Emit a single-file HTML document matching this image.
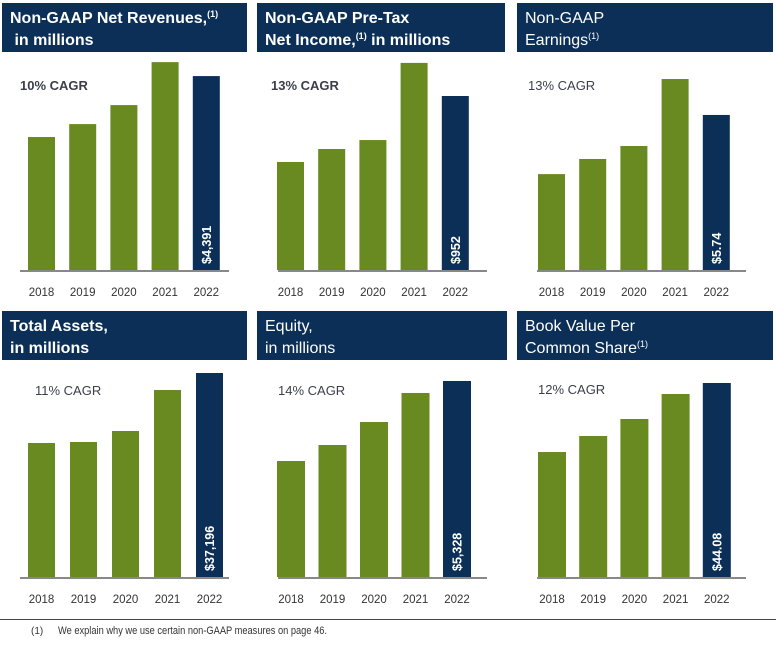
<!DOCTYPE html>
<html><head><meta charset="utf-8"><style>
html,body{margin:0;padding:0;background:#fff;}
body{width:776px;height:640px;overflow:hidden;font-family:"Liberation Sans",sans-serif;}
</style></head><body>
<svg id="c" width="776" height="640" xmlns="http://www.w3.org/2000/svg"></svg>
<script>
const years = ["2018","2019","2020","2021","2022"];
const revenues = [3011, 3304, 3734, 4707, 4391];
const pretax = [591, 662, 711, 1133, 952];
const earnings = [3.55, 4.11, 4.59, 7.07, 5.74];
const assets = [24433, 24615, 26621, 34097, 37196];
const equity = [3153, 3588, 4213, 5002, 5328];
const bookValue = [28.40, 32.04, 35.90, 41.58, 44.08];
const valueLabels = ["$4,391", "$952", "$5.74", "$37,196", "$5,328", "$44.08"];
const cagrLabels = ["10% CAGR", "13% CAGR", "13% CAGR", "11% CAGR", "14% CAGR", "12% CAGR"];
const titles = [
  ["Non-GAAP Net Revenues,", " in millions"],
  ["Non-GAAP Pre-Tax", "Net Income,", " in millions"],
  ["Non-GAAP", "Earnings"],
  ["Total Assets,", "in millions"],
  ["Equity,", "in millions"],
  ["Book Value Per", "Common Share"]
];
const domainMax = [4710, 1138, 7.70, 37196, 5545, 46.35];

const NS = "http://www.w3.org/2000/svg";
const svg = document.getElementById("c");
function mk(tag, attrs, parent) {
  const e = document.createElementNS(NS, tag);
  for (const k in attrs) e.setAttribute(k, attrs[k]);
  (parent || svg).appendChild(e);
  return e;
}
const panels = [
  {x:0, hx:2, hw:245, hy:3, base:270, plotH:208, data:revenues, cx:20, cy:90, bold:true, pitch:41.2, bw:27, b0:28},
  {x:258, hx:257, hw:248, hy:3, base:270, plotH:208, data:pretax, cx:13, cy:90, bold:true, pitch:41.2, bw:27, b0:19},
  {x:517, hx:517, hw:256, hy:3, base:270, plotH:208, data:earnings, cx:11, cy:90, bold:false, pitch:41.2, bw:27, b0:21},
  {x:0, hx:2, hw:245, hy:311, base:577, plotH:204, data:assets, cx:35, cy:395, bold:false, pitch:42, bw:27, b0:28},
  {x:258, hx:257, hw:250, hy:311, base:577, plotH:204, data:equity, cx:20, cy:395, bold:false, pitch:41.5, bw:28, b0:19},
  {x:517, hx:517, hw:256, hy:311, base:577, plotH:204, data:bookValue, cx:21, cy:394, bold:false, pitch:41.2, bw:28, b0:21}
];
const slug = ["net-revenues","pretax-income","earnings","total-assets","equity","book-value"];
panels.forEach((p, i) => {
  const g = mk("g", {});
  
  
  const hdr = mk("rect", {x:p.hx, y:p.hy, width:p.hw, height:49, fill:"#0b2f57"}, g);
  
  
  const lines = titles[i];
  const boldTitle = (i < 2 || i === 3);
  const t = mk("text", {x:p.hx + 8, y:p.hy + 20, fill:"#fff", "font-size":"16", "font-weight": boldTitle ? "bold" : "normal"}, g);
  
  
  if (i === 1) {
    const a = mk("tspan", {x:p.hx + 8, y:p.hy + 20}, t); a.textContent = lines[0];
    const b = mk("tspan", {x:p.hx + 8, y:p.hy + 42}, t); b.textContent = lines[1];
    const s = mk("tspan", {"font-size":"9", dy:"-6"}, t); s.textContent = "(1)";
    const c = mk("tspan", {dy:"6"}, t); c.textContent = lines[2];
  } else {
    const a = mk("tspan", {x:p.hx + 8, y:p.hy + 20}, t); a.textContent = lines[0];
    if (i === 0) { const s = mk("tspan", {"font-size":"9", dy:"-6"}, t); s.textContent = "(1)"; }
    const b = mk("tspan", {x:p.hx + 8, y:p.hy + 42}, t); b.textContent = lines[1];
    if (i === 2 || i === 5) { const s = mk("tspan", {"font-size":"9", dy:"-6"}, t); s.textContent = "(1)"; }
  }
  const cg = mk("text", {x:p.x + p.cx, y:p.cy, fill:"#3a3f4a", "font-size":"13", "font-weight": p.bold ? "bold" : "normal"}, g);
  cg.textContent = cagrLabels[i];
  
  
  const yScale = v => p.base - v / domainMax[i] * p.plotH;
  const xScale = k => p.x + p.b0 + k * p.pitch;
  p.data.forEach((v, k) => {
    const y = yScale(v);
    const r = mk("rect", {x:xScale(k), y:y, width:p.bw, height:p.base - y, fill: k === 4 ? "#0b2f57" : "#688a20"}, g);
    
    
    const yl = mk("text", {x:xScale(k) + p.bw / 2, y:p.base + 26, "text-anchor":"middle", fill:"#333", "font-size":"11.5"}, g);
    yl.textContent = years[k];
    
    
  });
  const ax = mk("line", {x1:p.x + 20, x2:p.x + 229, y1:p.base + 1, y2:p.base + 1, stroke:"#888", "stroke-width":"2"}, g);
  
  
  const lx = xScale(4) + p.bw / 2 + 4.5, ly = p.base - 6;
  const vl = mk("text", {x:lx, y:ly, fill:"#fff", "font-size":"12.5", "font-weight":"bold", transform:"rotate(-90 " + lx + " " + ly + ")"}, g);
  vl.textContent = valueLabels[i];
  
  
});
const fl = mk("line", {x1:0, x2:776, y1:619.5, y2:619.5, stroke:"#444", "stroke-width":"1"});


const fn = mk("text", {x:31, y:634, fill:"#333", "font-size":"11"});


const f1 = mk("tspan", {"font-size":"10"}, fn); f1.textContent = "(1)";
const f2 = mk("tspan", {x:58, textLength:"269", lengthAdjust:"spacingAndGlyphs"}, fn); f2.textContent = "We explain why we use certain non-GAAP measures on page 46.";
</script>
</body></html>
